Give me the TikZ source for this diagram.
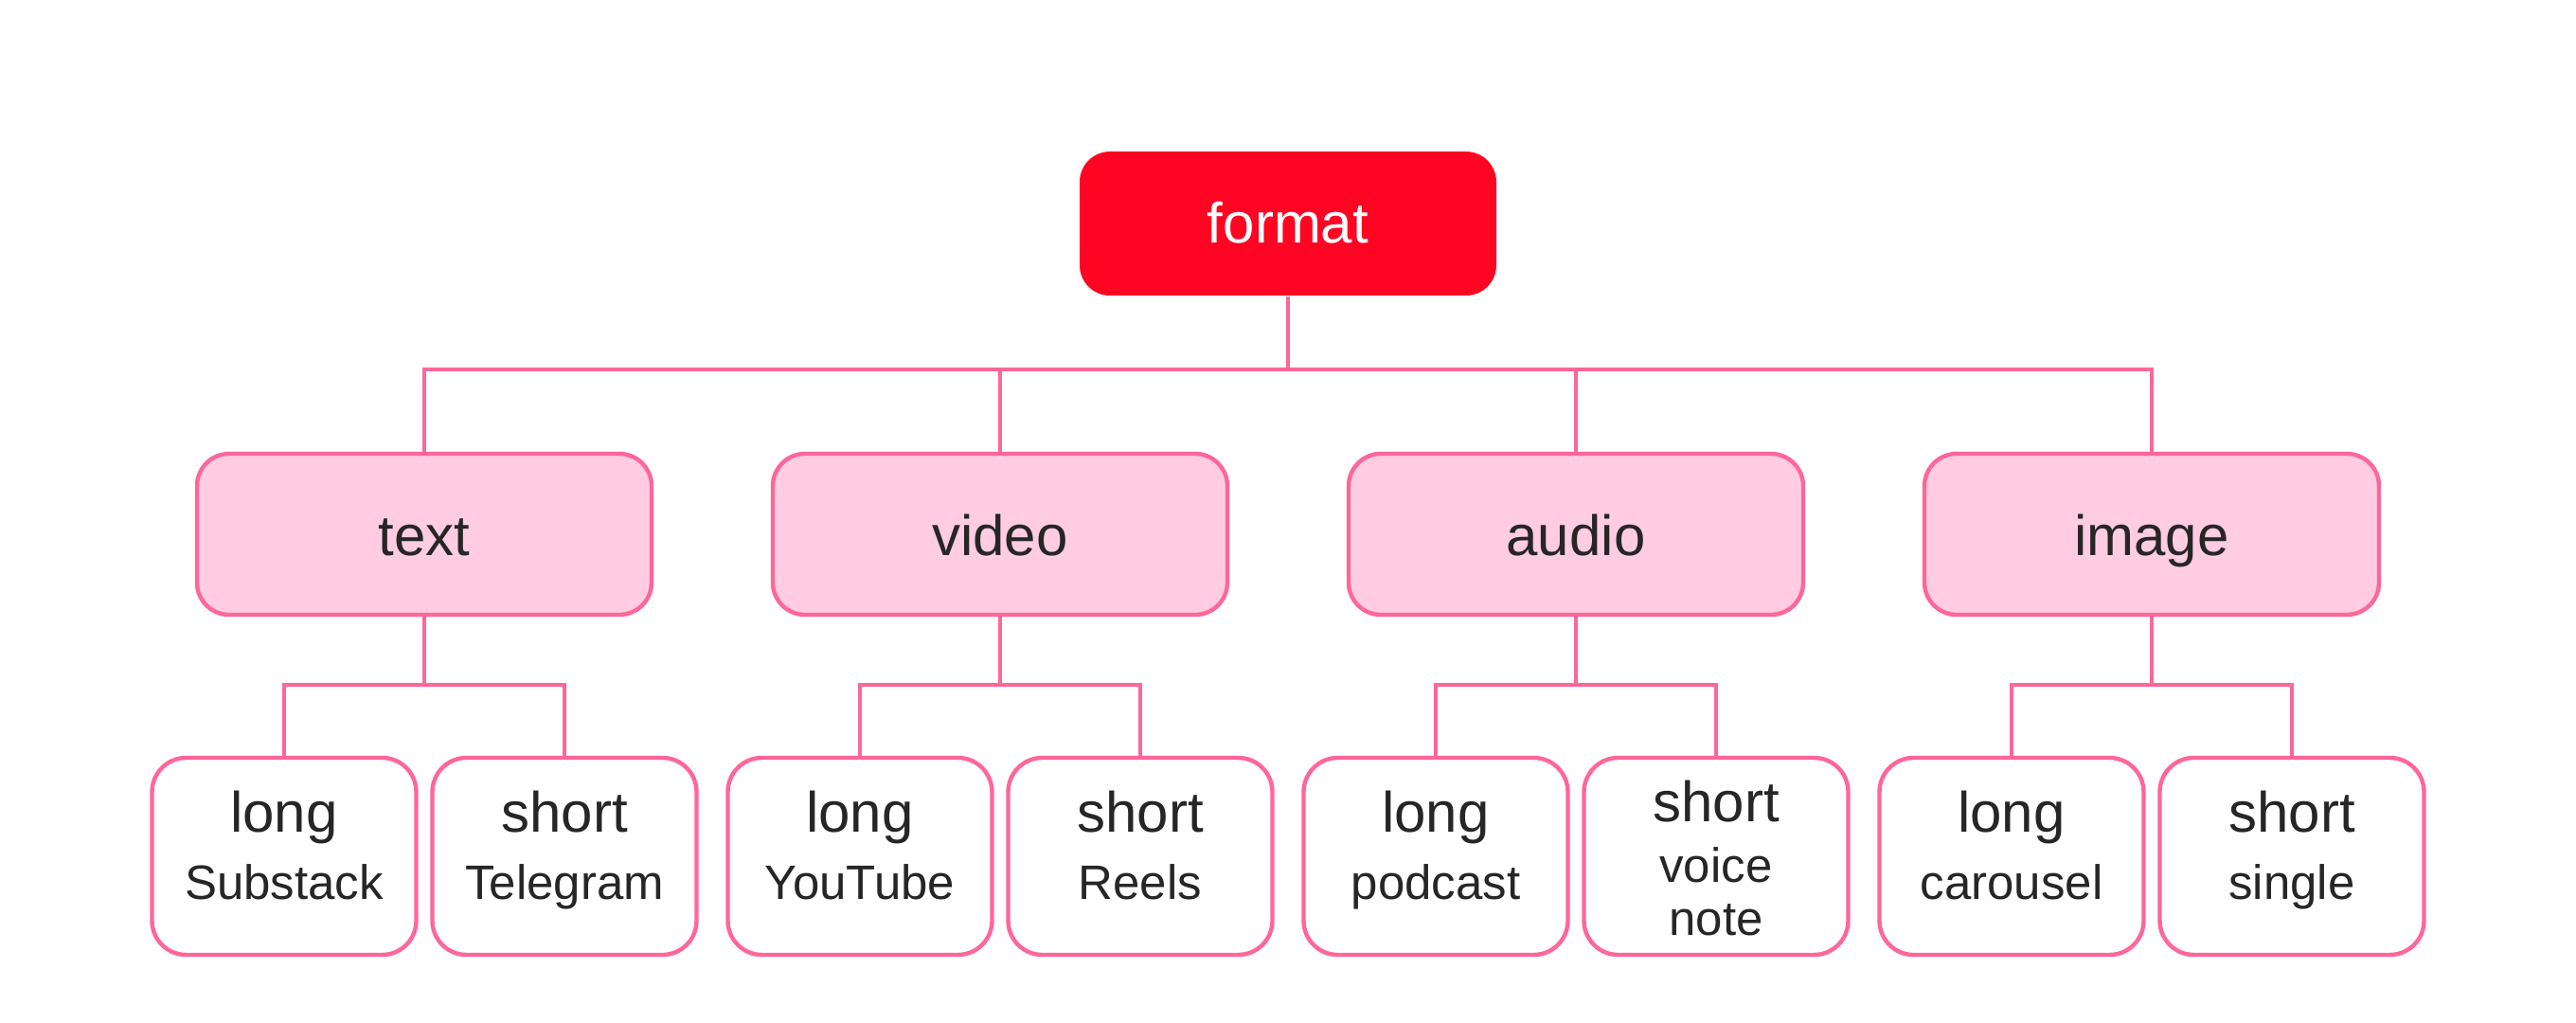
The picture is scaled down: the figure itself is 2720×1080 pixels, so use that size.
\documentclass[tikz,border=0pt]{standalone}
\usepackage{fontspec}
\setmainfont{Liberation Sans}
\definecolor{topred}{HTML}{FF0524}
\definecolor{pinkfill}{HTML}{FFCCE2}
\definecolor{pinkline}{HTML}{FF6699}
\definecolor{ink}{HTML}{262626}
\newcommand\subf{\fontsize{12.75}{15}\selectfont}
\newcommand\topstrut{\rule{0pt}{12pt}}
\newcommand\botstrut[1]{\rule[-#1]{0pt}{0pt}}
\tikzset{
  rootbox/.style={rounded corners=8pt, fill=topred, draw=none, text=white,
    minimum width=110pt, minimum height=38pt, font=\fontsize{15}{18}\selectfont,
    text height=13.4pt, text depth=3pt},
  midbox/.style={rounded corners=8.5pt, fill=pinkfill, draw=pinkline, line width=1.1pt, text=ink,
    minimum width=120pt, minimum height=42.5pt, font=\fontsize{15}{18}\selectfont,
    text height=14pt, text depth=2.75pt},
  leafbox/.style={rounded corners=9pt, fill=white, draw=pinkline, line width=1.1pt, text=ink,
    minimum width=69.75pt, minimum height=52pt, align=center, inner sep=0pt,
    font=\fontsize{15}{17.8}\selectfont},
  conn/.style={draw=pinkline, line width=1.1pt},
}
\begin{document}
\begin{tikzpicture}[x=0.25pt,y=-0.25pt]
\useasboundingbox (0,0) rectangle (2720,1080);
\coordinate (bus) at (0,390);
\coordinate (sbus) at (0,723);
\node[rootbox] (format) at (1360,236) {format};
\node[midbox] (text) at (448,564) {text};
\node[midbox] (video) at (1056,564) {video};
\node[midbox] (audio) at (1664,564) {audio};
\node[midbox] (image) at (2272,564) {image};
\node[leafbox] (tl) at (300,904) {\topstrut long\\\subf Substack\botstrut{7.2pt}};
\node[leafbox] (ts) at (596,904) {\topstrut short\\\subf Telegram\botstrut{7.2pt}};
\node[leafbox] (vl) at (908,904) {\topstrut long\\\subf YouTube\botstrut{7.2pt}};
\node[leafbox] (vs) at (1204,904) {\topstrut short\\\subf Reels\botstrut{7.2pt}};
\node[leafbox] (al) at (1516,904) {\topstrut long\\\subf podcast\botstrut{7.2pt}};
\node[leafbox] (as) at (1812,904) {\topstrut short\\[-1.8pt]\subf voice\\[-3.9pt]\subf note\botstrut{0.3pt}};
\node[leafbox] (il) at (2124,904) {\topstrut long\\\subf carousel\botstrut{7.2pt}};
\node[leafbox] (is) at (2420,904) {\topstrut short\\\subf single\botstrut{7.2pt}};
\foreach \c in {text,video,audio,image}
  \draw[conn] (format.south) -- (format.south |- bus) -| (\c.north);
\foreach \p/\a/\b in {text/tl/ts, video/vl/vs, audio/al/as, image/il/is}{
  \draw[conn] (\p.south) -- (\p.south |- sbus) -| (\a.north);
  \draw[conn] (\p.south) -- (\p.south |- sbus) -| (\b.north);
}
\end{tikzpicture}
\end{document}
